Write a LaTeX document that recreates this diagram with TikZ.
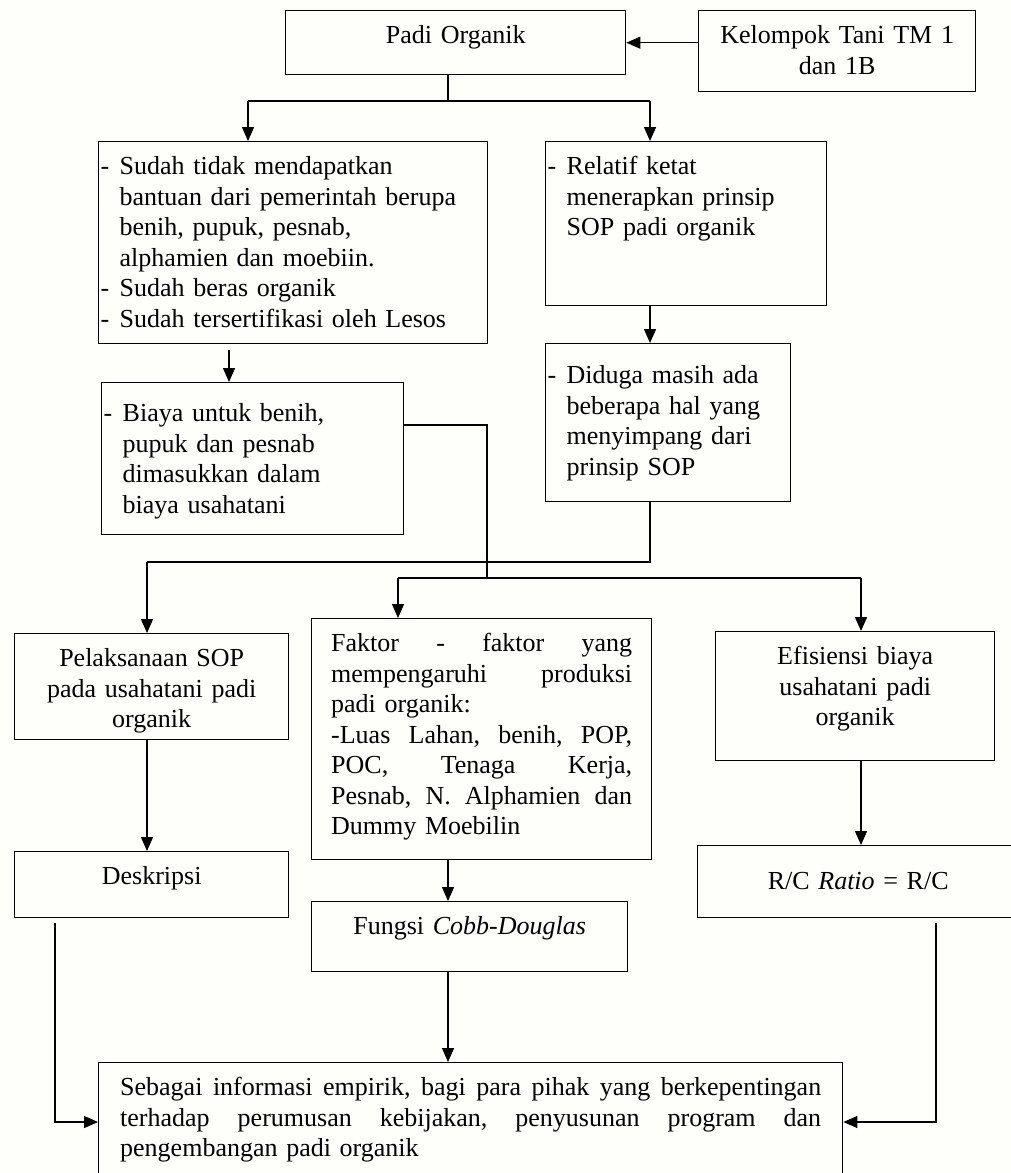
\documentclass[tikz,border=0pt]{standalone}
\usepackage{fontspec}
\setmainfont{Liberation Serif}
\usepackage{xcolor}
\usetikzlibrary{arrows.meta}

\definecolor{latar}{RGB}{254,254,250}
\newcommand{\tanda}{\makebox[9.5pt][l]{-}}
\newcommand{\lanjut}{\hspace*{9.5pt}}

\begin{document}
\begin{tikzpicture}[x=0.5pt, y=-0.5pt,
  kotak/.style={draw, line width=0.7pt, anchor=north west, inner ysep=0pt, text height=16.5pt, font=\fontsize{13}{15.25}\selectfont},
  tengah/.style={kotak, execute at begin node=\centering},
  kiri/.style={kotak, execute at begin node=\raggedright},
  garis/.style={line width=0.7pt},
  panah/.style={line width=0.7pt, -{Triangle[length=7pt,width=6pt]}}]

\path[use as bounding box] (0,0) rectangle (1011,1173);
\clip (0,0) rectangle (1011,1173);
\fill[latar] (0,0) rectangle (1011,1173);

\node[tengah, inner xsep=2pt, text width=166pt, text depth=15.5pt] (padi) at (285,10) {Padi Organik};
\node[tengah, inner xsep=2pt, text width=134.5pt, text depth=24pt] (kelompok) at (698,10) {Kelompok Tani TM 1\\dan 1B};

\node[kiri, inner xsep=1pt, text width=192.5pt, text depth=84.5pt] (sudah) at (98,141) {\tanda Sudah tidak mendapatkan\\ \lanjut bantuan dari pemerintah berupa\\ \lanjut benih, pupuk, pesnab,\\ \lanjut alphamien dan moebiin.\\ \tanda Sudah beras organik\\ \tanda Sudah tersertifikasi oleh Lesos};
\node[kiri, inner xsep=1pt, text width=138.5pt, text depth=65.5pt] (relatif) at (545,141) {\tanda Relatif ketat\\ \lanjut menerapkan prinsip\\ \lanjut SOP padi organik};
\node[kiri, inner xsep=1pt, text width=120.5pt, text height=20pt, text depth=59pt] (diduga) at (545,343) {\tanda Diduga masih ada\\ \lanjut beberapa hal yang\\ \lanjut menyimpang dari\\ \lanjut prinsip SOP};
\node[kiri, inner xsep=1pt, text width=149pt, text height=19.5pt, text depth=56.5pt] (biaya) at (101,382) {\tanda Biaya untuk benih,\\ \lanjut pupuk dan pesnab\\ \lanjut dimasukkan dalam\\ \lanjut biaya usahatani};

\node[tengah, inner xsep=2pt, text width=133pt, text depth=36.5pt] (pelaksanaan) at (14,633) {Pelaksanaan SOP\\pada usahatani padi\\organik};
\node[kiri, inner xsep=9.75pt, text width=150.5pt, text depth=104pt] (faktor) at (311,618) {Faktor \hfill - \hfill faktor \hfill yang\\ mempengaruhi \hfill produksi\\ padi organik:\\ -Luas \hfill Lahan, \hfill benih, \hfill POP,\\ POC, \hfill Tenaga \hfill Kerja,\\ Pesnab, \hfill N. \hfill Alphamien \hfill dan\\ Dummy Moebilin};
\node[tengah, inner xsep=2pt, text width=135.5pt, text depth=48pt] (efisiensi) at (715,631) {Efisiensi biaya\\usahatani padi\\organik};

\node[tengah, inner xsep=2pt, text width=133pt, text depth=16.5pt] (deskripsi) at (14,851) {Deskripsi};
\node[tengah, inner xsep=2pt, text width=156.5pt, text height=22pt, text depth=14pt] (rc) at (697,845) {R/C \textit{Ratio} = R/C};
\node[tengah, inner xsep=2pt, text width=154pt, text depth=18.5pt] (fungsi) at (311,901) {Fungsi \textit{Cobb-Douglas}};

\node[kiri, inner xsep=10.75pt, text width=350.5pt, text depth=45.5pt] (sebagai) at (98,1062) {Sebagai \hfill informasi \hfill empirik, \hfill bagi \hfill para \hfill pihak \hfill yang \hfill berkepentingan\\ terhadap \hfill perumusan \hfill kebijakan, \hfill penyusunan \hfill program \hfill dan\\ pengembangan padi organik};

\coordinate (c1) at (448,101);
\coordinate (c1a) at (248,101);
\coordinate (c1b) at (650,101);
\coordinate (c2) at (229,362);
\coordinate (c3) at (487,425);
\coordinate (c4) at (487,578);
\coordinate (c5) at (650,562);
\coordinate (c6) at (147,562);
\coordinate (c7) at (398,578);
\coordinate (c8) at (861,578);
\coordinate (c9) at (448,880);
\coordinate (c10) at (55,1122);
\coordinate (c11) at (936,1122);

\draw[panah] (padi.east -| kelompok.west) -- (padi.east);
\draw[garis] (padi.south -| c1) -- (c1);
\draw[line width=0.9pt] (c1a) -- (c1b);
\draw[panah] (c1a) -- (c1a |- sudah.north);
\draw[panah] (c1b) -- (c1b |- relatif.north);

\draw[panah] (relatif.south -| c1b) -- (diduga.north -| c1b);
\draw[panah, shorten <=3pt] (sudah.south -| c2) -- (biaya.north -| c2);

\draw[garis] (biaya.east |- c3) -- (c3) -- (c4);
\draw[garis] (diduga.south -| c5) -- (c5) -- (c6);
\draw[panah] (c6) -- (c6 |- pelaksanaan.north);
\draw[line width=0.9pt] (c7) -- (c8);
\draw[panah] (c7) -- (c7 |- faktor.north);
\draw[panah] (c8) -- (c8 |- efisiensi.north);

\draw[panah] (pelaksanaan.south -| c6) -- (deskripsi.north -| c6);
\draw[panah] (efisiensi.south -| c8) -- (rc.north -| c8);
\draw[panah] (faktor.south -| c9) -- (fungsi.north -| c9);
\draw[panah] (fungsi.south -| c9) -- (sebagai.north -| c9);

\draw[panah, shorten <=2.5pt] (deskripsi.south -| c10) |- (sebagai.west |- c10);
\draw[panah, shorten <=2.5pt] (rc.south -| c11) |- (sebagai.east |- c11);

\end{tikzpicture}
\end{document}
